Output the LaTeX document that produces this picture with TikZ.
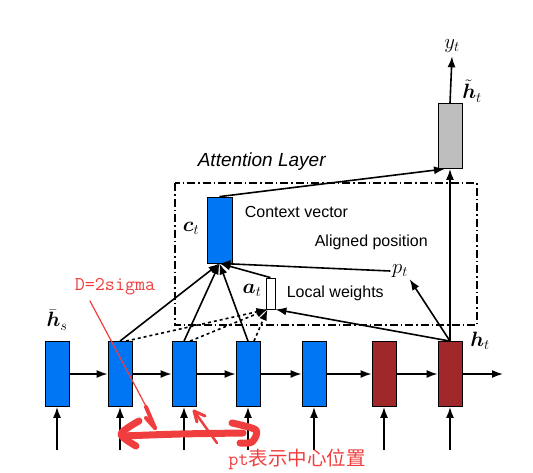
\documentclass[tikz,border=0pt]{standalone}
\usepackage{amsmath}
\usepackage{bm}
\usepackage[no-math]{fontspec}
\setmainfont{Liberation Sans}
\newfontfamily\cjk{Noto Sans CJK SC}
\usetikzlibrary{arrows.meta,positioning,calc}
\definecolor{cellblue}{RGB}{0,118,245}
\definecolor{cellred}{RGB}{160,40,42}
\definecolor{cellgray}{RGB}{190,190,190}
\definecolor{markred}{RGB}{240,62,62}
\tikzstyle{cell}=[draw,line width=0.8pt,minimum width=24pt,minimum height=65pt,inner sep=0pt]
\tikzstyle{lbl}=[inner sep=1pt,font=\fontsize{20.74}{24}\selectfont]
\tikzstyle{txt}=[anchor=west,inner sep=0pt,font=\fontsize{16}{18}\selectfont]
\tikzstyle{attbox}=[line width=1.3pt,dash pattern=on 8pt off 3pt on 1.5pt off 3pt]
\tikzstyle{brush}=[markred,line cap=round,line join=round]

\begin{document}
\begin{tikzpicture}[x=1pt,y=-1pt,line width=1.6pt,>={Latex[length=11pt,width=8pt]}]
    \useasboundingbox (0,0) rectangle (533,472);
    \draw[attbox] (175,183) rectangle (477,325);
    \node[txt,font=\fontsize{19}{21}\selectfont\itshape] (attn) at (197,162) {Attention Layer};

    % encoder / decoder states
    \node [cell,fill=cellblue] (b1) at (57,374) {};
    \node [cell,fill=cellblue] (b2) at (120,374) {};
    \node [cell,fill=cellblue] (b3) at (184,374) {};
    \node [cell,fill=cellblue] (b4) at (248,374) {};
    \node [cell,fill=cellblue] (b5) at (314,374) {};
    \node [cell,fill=cellred] (b6) at (384,374) {};
    \node [cell,fill=cellred] (b7) at (450,374) {};
    \coordinate (rout) at (503,374);

    \node [cell,fill=cellgray] (htil) at (450,136) {};
    \node [cell,fill=cellblue,minimum width=25pt,minimum height=66pt] (ct) at (219.5,230) {};
    \node [draw,fill=white,line width=0.8pt,minimum width=9pt,minimum height=31pt,inner sep=0pt] (at) at (270.5,293.5) {};

    % labels
    \node [lbl] (hs) at (57,320) {$\bar{\bm h}_s$};
    \node [lbl] (hlab) at (480,341) {$\bm h_t$};
    \node [lbl] (clab) at (191,228) {$\bm c_t$};
    \node [lbl] (alab) at (252,290) {$\bm a_t$};
    \node [lbl] (htlab) at (472,91) {$\tilde{\bm h}_t$};
    \node [lbl] (yt) at (452,46) {$y_t$};
    \node [lbl] (pt) at (400,271) {$p_t$};
    \node [txt] (ctxt) at (244,212) {Context vector};
    \node [txt] (altxt) at (314,242) {Aligned position};
    \node [txt] (lwtxt) at (286,293) {Local weights};

    % recurrence
    \draw[->] (b1.east) -- (b2.west);
    \draw[->] (b2.east) -- (b3.west);
    \draw[->] (b3.east) -- (b4.west);
    \draw[->] (b4.east) -- (b5.west);
    \draw[->] (b5.east) -- (b6.west);
    \draw[->] (b6.east) -- (b7.west);
    \draw[->] (b7.east) -- (rout);
    \foreach \c in {b1,b2,b3,b4,b5,b6,b7}
      \draw[->] ([yshift=-43pt]\c.south) -- (\c.south);

    % attention
    \foreach \c in {b2,b3,b4}
      \draw[->] (\c.north) -- (ct.south);
    \foreach \c in {b2,b3,b4}
      \draw[->,dashed] ([xshift=6pt]\c.north) -- ([xshift=-3pt]at.south);
    \draw[->] (at.north) -- (ct.south);
    \draw[->] (pt.west) -- (ct.south);
    \draw[->] (b7.north) -- (at.south east);
    \draw[->] (b7.north) -- (pt.south east);
    \draw[->] (b7.north) -- (htil.south);
    \draw[->] (ct.north) -- ([xshift=-5pt]htil.south);
    \draw[->] (htil.north) -- ([yshift=-2pt]yt.south);

    % red marks
    \node [markred,inner sep=0pt,font=\fontsize{19.5}{21}\selectfont\ttfamily] (dtxt) at (115,287) {D=2sigma};
    \node [markred,inner sep=0pt,font=\fontsize{19.5}{21}\selectfont] (ptxt) at (297,459) {\ttfamily pt\cjk 表示中心位置};
    \draw[brush,line width=1.2pt] (90,301) -- (140,395);
    \draw[brush,line width=1.2pt] (140,395) -- (150,414);
    \draw[brush,line width=4pt] (146,407) -- (155,428);
    \draw[brush,line width=4pt] (155,428) -- (146,418);
    \draw[brush,line width=7pt] plot[smooth] coordinates {(139,421) (121,434) (136,446)};
    \draw[brush,line width=7pt] plot[smooth] coordinates {(122,436) (180,434) (243,433)};
    \draw[brush,line width=7pt] plot[smooth] coordinates {(232,423) (256,430) (252,442) (240,443)};
    \draw[brush,line width=2.5pt] (217,443) -- (194,411);
    \draw[brush,line width=3pt] (194,411) -- (205,416);
    \draw[brush,line width=3pt] (194,411) -- (197,422);
\end{tikzpicture}
\end{document}
